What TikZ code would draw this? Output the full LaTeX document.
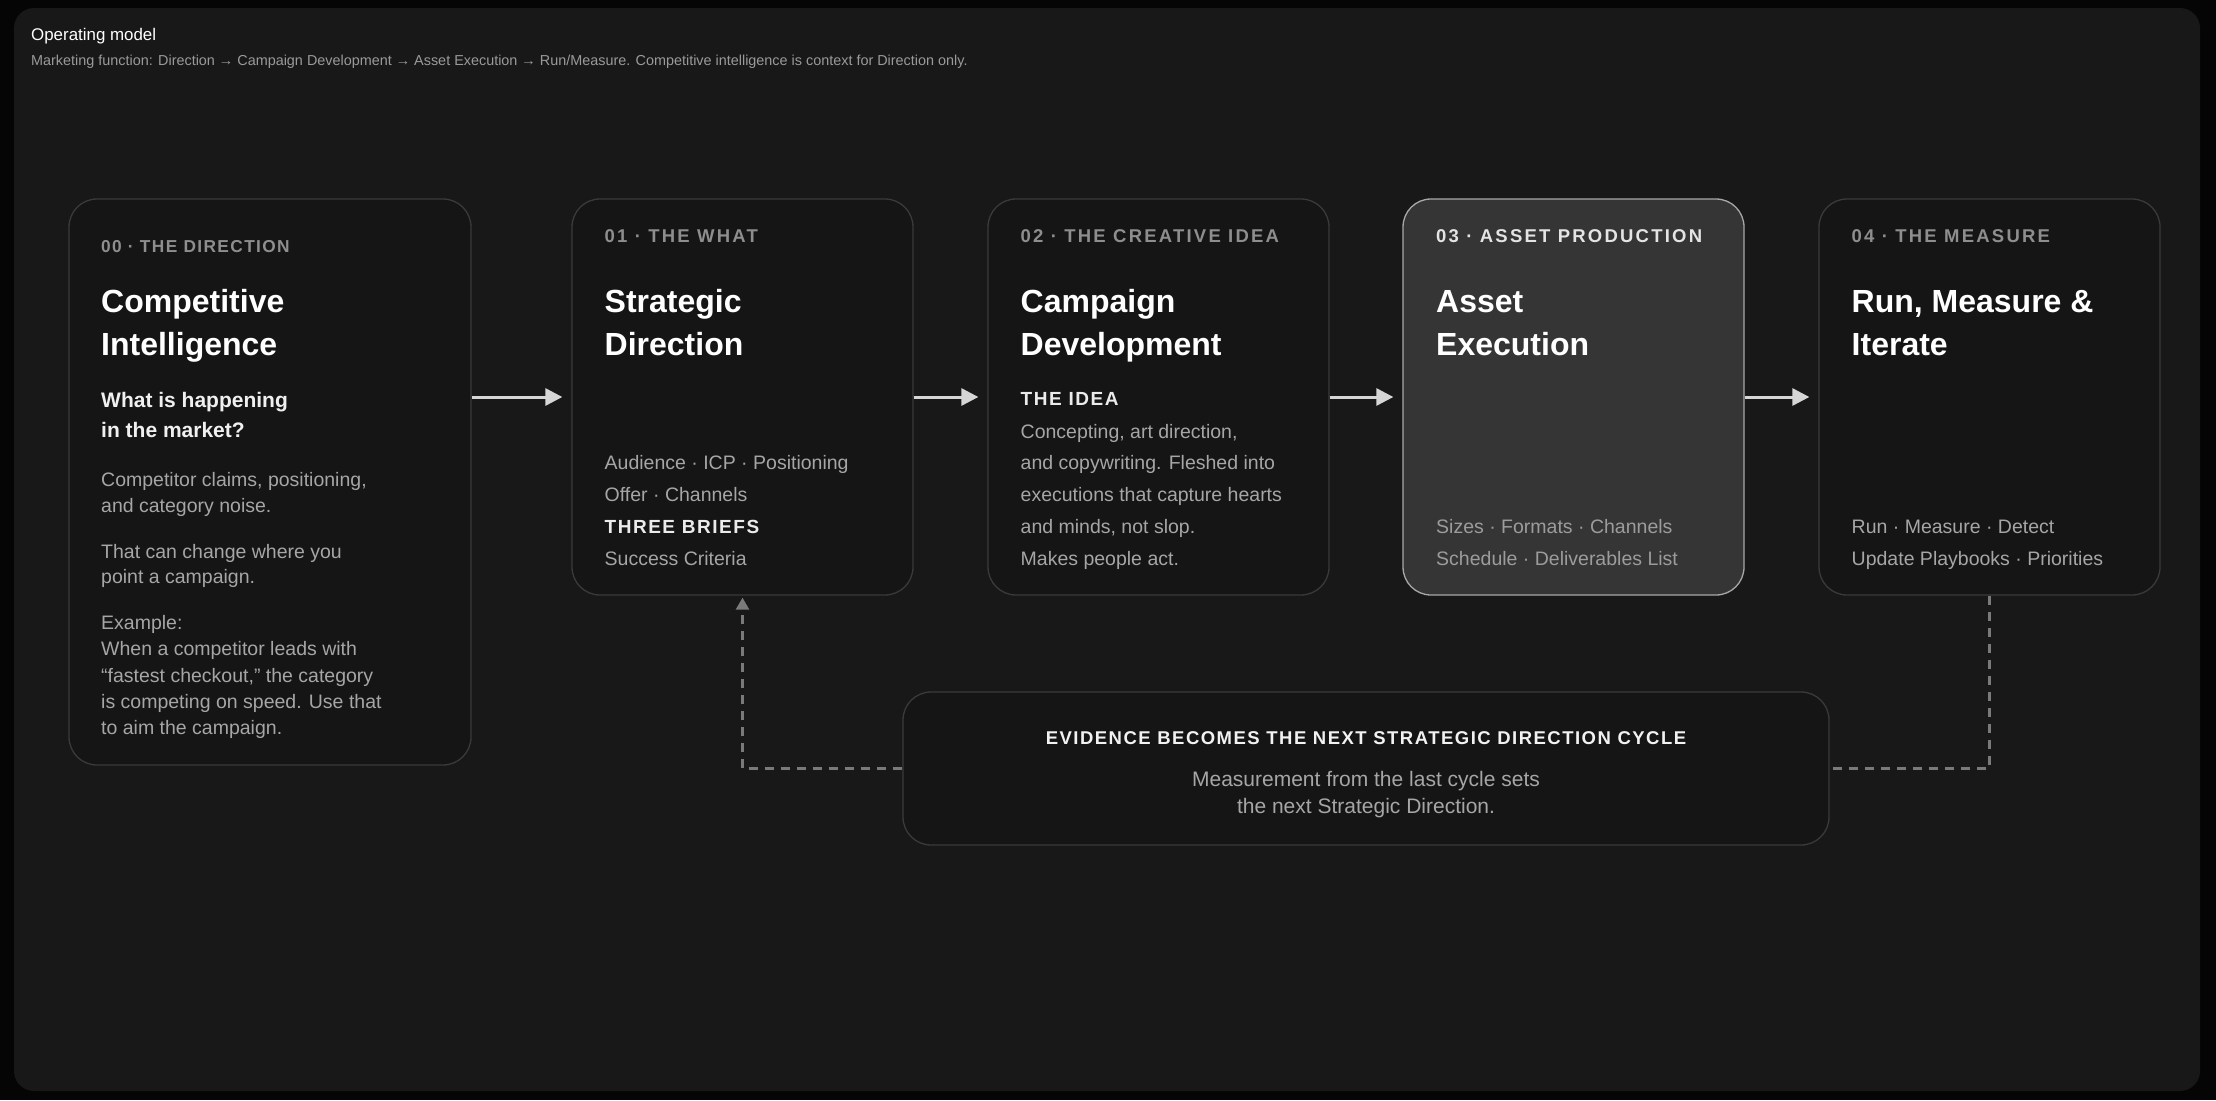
\documentclass[tikz,border=0pt]{standalone}
\usepackage{fontspec}
\setmainfont{Liberation Sans}
\newfontfamily\trackfont[LetterSpace=8]{Liberation Sans}
\newfontfamily\widefont[LetterSpace=12]{Liberation Sans}
\usetikzlibrary{arrows.meta}

\definecolor{outerbg}{HTML}{050505}
\definecolor{panelbg}{HTML}{181818}
\definecolor{cardfill}{HTML}{151515}
\definecolor{cardline}{HTML}{3A3A3A}
\definecolor{hotfill}{HTML}{353535}
\definecolor{hotline}{HTML}{A8A8A8}
\definecolor{taggray}{HTML}{8E8E8E}
\definecolor{hottag}{HTML}{E4E4E4}
\definecolor{bodygray}{HTML}{A6A6A6}
\definecolor{hotbody}{HTML}{9C9C9C}
\definecolor{subgray}{HTML}{9A9A9A}
\definecolor{arrowgray}{HTML}{D6D6D6}
\definecolor{dashgray}{HTML}{7A7A7A}

\tikzset{
  card/.style={draw=cardline,fill=cardfill,line width=1.3pt,rounded corners=28pt},
  hotcard/.style={card,draw=hotline,fill=hotfill},
  tag/.style={anchor=base west,inner sep=0pt,text=taggray,font=\widefont\bfseries\fontsize{18.5}{22}\selectfont},
  smalltag/.style={tag,font=\trackfont\bfseries\fontsize{17.3}{20}\selectfont},
  head/.style={anchor=base west,inner sep=0pt,text=white,font=\bfseries\fontsize{32}{40}\selectfont},
  sub/.style={anchor=base west,inner sep=0pt,text=white!94!black,font=\bfseries\fontsize{21}{25}\selectfont},
  brief/.style={anchor=base west,inner sep=0pt,text=white!92!black,font=\trackfont\bfseries\fontsize{19}{23}\selectfont},
  banner/.style={anchor=base,inner sep=0pt,text=white!95!black,font=\trackfont\bfseries\fontsize{18.5}{22}\selectfont},
  body/.style={anchor=base west,inner sep=0pt,text=bodygray,font=\fontsize{19.5}{24}\selectfont},
  note/.style={anchor=base,inner sep=0pt,text=bodygray,font=\fontsize{21}{25}\selectfont},
  flow/.style={draw=arrowgray,line width=3pt,-{Triangle[length=17pt,width=17pt]},shorten >=9pt},
  loopline/.style={draw=dashgray,line width=2.5pt,dash pattern=on 9pt off 7pt},
}

\begin{document}
\begin{tikzpicture}[x=1pt,y=-1pt]
\useasboundingbox (0,0) rectangle (2216,1100);
\fill[outerbg] (0,0) rectangle (2216,1100);
\fill[panelbg,rounded corners=20pt] (14,8) rectangle (2200,1091);

\node[anchor=base west,inner sep=0pt,text=white,font=\fontsize{16.9}{20}\selectfont] (ttl) at (31,40) {Operating model};
\node[anchor=base west,inner sep=0pt,text=subgray,font=\fontsize{14.4}{17}\selectfont] (sttl) at (31,65) {Marketing function: Direction → Campaign Development → Asset Execution → Run/Measure. Competitive intelligence is context for Direction only.};

\node[card,minimum width=402pt,minimum height=566pt] (b0) at (270,482) {};
\node[card,minimum width=341pt,minimum height=396pt] (b1) at (742.5,397) {};
\node[card,minimum width=341pt,minimum height=396pt] (b2) at (1158.5,397) {};
\node[hotcard,minimum width=341pt,minimum height=396pt] (b3) at (1573.5,397) {};
\node[card,minimum width=341pt,minimum height=396pt] (b4) at (1989.5,397) {};
\node[card,minimum width=926pt,minimum height=153pt] (fb) at (1366,768.5) {};

\node[smalltag] (b0tag) at (101,252) {00 · THE DIRECTION};
\node[head] (b0h1) at (101,312) {Competitive};
\node[head] (b0h2) at (101,355.5) {Intelligence};
\node[sub] (b0q1) at (101,407) {What is happening};
\node[sub] (b0q2) at (101,437) {in the market?};
\node[body] (b0t1) at (101,486) {Competitor claims, positioning,};
\node[body] (b0t2) at (101,512) {and category noise.};
\node[body] (b0t3) at (101,558) {That can change where you};
\node[body] (b0t4) at (101,583) {point a campaign.};
\node[body] (b0t5) at (101,629) {Example:};
\node[body] (b0t6) at (101,655.5) {When a competitor leads with};
\node[body] (b0t7) at (101,682) {“fastest checkout,” the category};
\node[body] (b0t8) at (101,708.5) {is competing on speed. Use that};
\node[body] (b0t9) at (101,734) {to aim the campaign.};

\node[tag] (b1tag) at (604.5,242) {01 · THE WHAT};
\node[head] (b1h1) at (604.5,312.5) {Strategic};
\node[head] (b1h2) at (604.5,355.5) {Direction};
\node[body] (b1t1) at (604.5,469) {Audience · ICP · Positioning};
\node[body] (b1t2) at (604.5,501) {Offer · Channels};
\node[brief] (b1t3) at (604.5,533) {THREE BRIEFS};
\node[body] (b1t4) at (604.5,565) {Success Criteria};

\node[tag] (b2tag) at (1020.5,242) {02 · THE CREATIVE IDEA};
\node[head] (b2h1) at (1020.5,312.5) {Campaign};
\node[head] (b2h2) at (1020.5,355.5) {Development};
\node[brief] (b2idea) at (1020.5,405.5) {THE IDEA};
\node[body] (b2t1) at (1020.5,438) {Concepting, art direction,};
\node[body] (b2t2) at (1020.5,469) {and copywriting. Fleshed into};
\node[body] (b2t3) at (1020.5,501) {executions that capture hearts};
\node[body] (b2t4) at (1020.5,533) {and minds, not slop.};
\node[body] (b2t5) at (1020.5,565) {Makes people act.};

\node[tag,text=hottag] (b3tag) at (1436,242) {03 · ASSET PRODUCTION};
\node[head] (b3h1) at (1436,312.5) {Asset};
\node[head] (b3h2) at (1436,355.5) {Execution};
\node[body,text=hotbody] (b3t1) at (1436,533) {Sizes · Formats · Channels};
\node[body,text=hotbody] (b3t2) at (1436,565) {Schedule · Deliverables List};

\node[tag] (b4tag) at (1851.5,242) {04 · THE MEASURE};
\node[head] (b4h1) at (1851.5,312.5) {Run, Measure \&};
\node[head] (b4h2) at (1851.5,355.5) {Iterate};
\node[body] (b4t1) at (1851.5,533) {Run · Measure · Detect};
\node[body] (b4t2) at (1851.5,565) {Update Playbooks · Priorities};

\node[banner] (fbh) at (1366,744) {EVIDENCE BECOMES THE NEXT STRATEGIC DIRECTION CYCLE};
\node[note] (fbt1) at (1366,786) {Measurement from the last cycle sets};
\node[note] (fbt2) at (1366,813) {the next Strategic Direction.};

\draw[flow] (b0.east |- b1.west) -- (b1.west);
\draw[flow] (b1) -- (b2);
\draw[flow] (b2) -- (b3);
\draw[flow] (b3) -- (b4);

\draw[loopline] (b4.south) |- (fb.east);
\draw[loopline,-{Triangle[length=12pt,width=13pt]},shorten >=2pt] (fb.west) -| (b1.south);
\end{tikzpicture}
\end{document}
